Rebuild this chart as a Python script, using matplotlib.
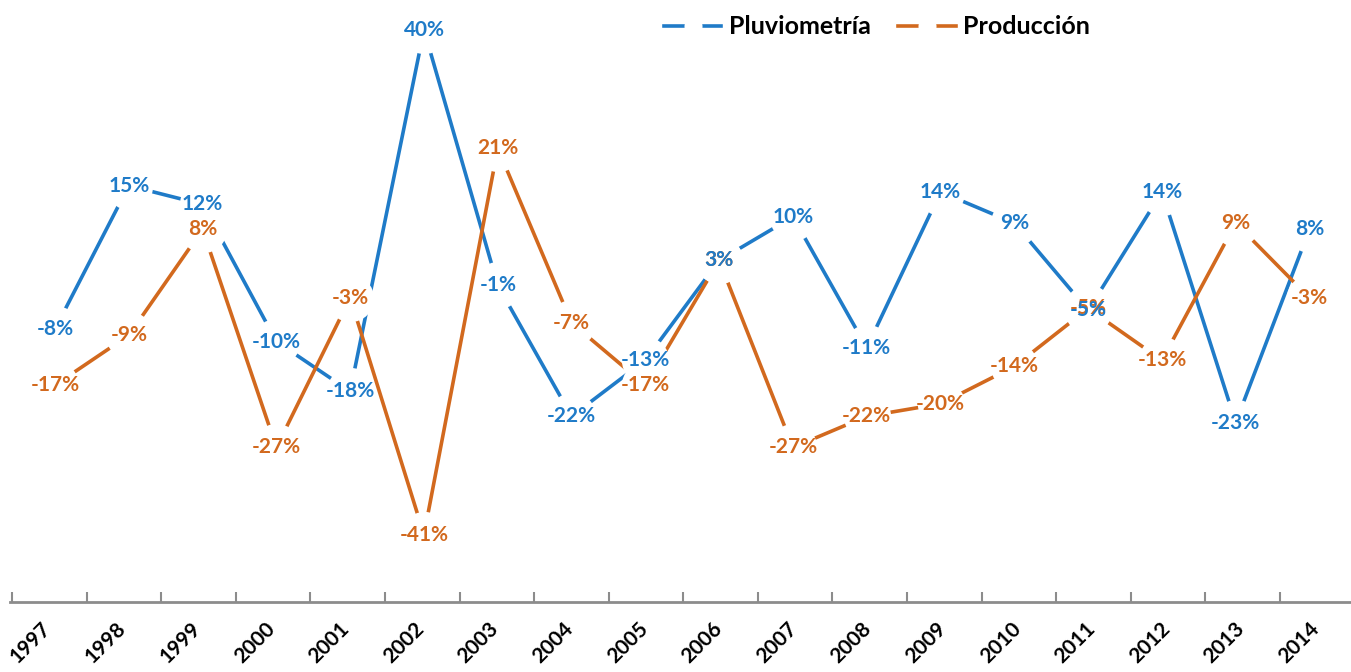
import matplotlib
matplotlib.use("Agg")
import matplotlib.pyplot as plt
from matplotlib.lines import Line2D

# --------------Datos--------------------------------------------------------
anios = ['1997', '1998', '1999', '2000', '2001', '2002', '2003', '2004', '2005',
         '2006', '2007', '2008', '2009', '2010', '2011', '2012', '2013', '2014']
pluviometria = [-0.08, 0.15, 0.12, -0.10, -0.18, 0.40, -0.01, -0.22, -0.13,
                0.03, 0.10, -0.11, 0.14, 0.09, -0.05, 0.14, -0.23, 0.08]
produccion = [-0.17, -0.09, 0.08, -0.27, -0.03, -0.41, 0.21, -0.07, -0.17,
              0.03, -0.27, -0.22, -0.20, -0.14, -0.047, -0.13, 0.09, -0.03]

azul = '#1F7BC8'
naranja = '#D2691E'
fuente = 'Lato'

# --------------Figura--------------------------------------------------------
fig = plt.figure(figsize=(13.51, 6.72), dpi=100)
ax = fig.add_axes([10 / 1351, 70 / 672, 1346 / 1351, 602 / 672])

x = list(range(len(anios)))

ax.plot(x, pluviometria, color=azul, lw=2.6, zorder=2, solid_capstyle='butt')
ax.plot(x, produccion, color=naranja, lw=2.6, zorder=2, solid_capstyle='butt')

# marcadores blancos que cortan la linea alrededor de cada etiqueta
ax.plot(x, pluviometria, ls='none', marker='o', ms=34, mfc='white', mec='none', zorder=3)
ax.plot(x, produccion, ls='none', marker='o', ms=34, mfc='white', mec='none', zorder=3)

for xi, v in zip(x, produccion):
    ax.text(xi, v, f"{round(v * 100):.0f}%", color=naranja, ha='center', va='center',
            fontsize=15, fontweight='bold', family=fuente, zorder=4)
for xi, v in zip(x, pluviometria):
    ax.text(xi, v, f"{round(v * 100):.0f}%", color=azul, ha='center', va='center',
            fontsize=15, fontweight='bold', family=fuente, zorder=5)

ax.set_xlim(-0.61, 17.63)
ax.set_ylim(-0.518, 0.448)

for s in ['left', 'right', 'top']:
    ax.spines[s].set_visible(False)
ax.spines['bottom'].set_color('#8C8C8C')
ax.spines['bottom'].set_linewidth(2)
ax.set_yticks([])

# el eje de categorias del original esta un poco mas abierto que los puntos
paso = 1.0108
ax.set_xticks([-0.095 + paso * i for i in x])
ax.set_xticklabels(anios, rotation=45, ha='right', va='center', rotation_mode='anchor',
                   fontsize=15, fontweight='bold', family=fuente)
ax.set_xticks([-0.583 + paso * j for j in range(len(anios) + 1)], minor=True)
ax.tick_params(axis='x', which='major', length=0, pad=17)
ax.tick_params(axis='x', which='minor', direction='in', length=7, width=1.5, color='#8C8C8C')

# --------------Leyenda-------------------------------------------------------
handles = [
    Line2D([], [], color=azul, lw=2.6, marker='o', ms=13, mfc='white', mec='none'),
    Line2D([], [], color=naranja, lw=2.6, marker='o', ms=13, mfc='white', mec='none'),
]
fig.legend(handles, ['Pluviometría', 'Producción'], loc='center', ncol=2,
           bbox_to_anchor=(877 / 1351, 1 - 27 / 672), frameon=False,
           prop={'family': fuente, 'weight': 'bold', 'size': 18},
           handlelength=2.3, handletextpad=0.3, columnspacing=1.1)

fig.savefig('out.png', dpi=100)
